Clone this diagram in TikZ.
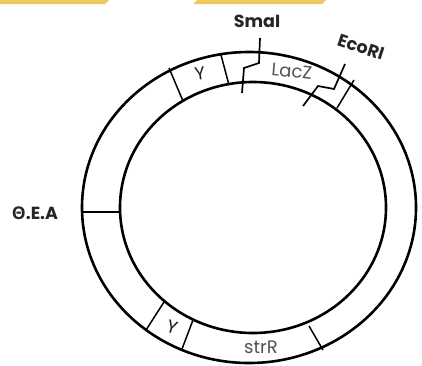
\documentclass[tikz,border=0pt]{standalone}
\usepackage{fontspec}
\setmainfont{Poppins}
\newfontfamily\greekfont{Open Sans}
\begin{document}
\begin{tikzpicture}[x=1pt,y=-1pt,
  ring/.style={line width=2.6pt},
  tick/.style={line width=1.5pt},
  cut/.style={line width=1.7pt, line join=miter},
  site/.style={font=\fontsize{17.5}{17.5}\selectfont\bfseries, text=black!85, inner sep=0pt},
  gene/.style={font=\fontsize{18}{18}\selectfont, text=black!68, inner sep=0pt},
  seglabel/.style={font=\fontsize{18}{18}\selectfont, text=black!90, inner sep=0pt}]
\definecolor{barcol}{RGB}{237,201,96}
\useasboundingbox (0,0) rectangle (422,365);
% yellow bars
\fill[barcol] (0,0) -- (109,0) -- (105,4) -- (0,4) -- cycle;
\fill[barcol] (197,0) -- (326,0) -- (322,4) -- (193,4) -- cycle;
% coordinates
\coordinate (ya1) at (169,68); \coordinate (ya2) at (183,101);
\coordinate (yb1) at (221,55); \coordinate (yb2) at (229,85);
\coordinate (s1) at (260,38); \coordinate (s2) at (259,63);
\coordinate (s3) at (244,68); \coordinate (s4) at (242,93);
\coordinate (e1) at (345,64); \coordinate (e2) at (334,89);
\coordinate (e3) at (318,86); \coordinate (e4) at (303,106);
\coordinate (la1) at (354,80); \coordinate (la2) at (337,108);
\coordinate (t1) at (82,212); \coordinate (t2) at (121,212);
\coordinate (yc1) at (164,302); \coordinate (yc2) at (146,330);
\coordinate (yd1) at (193,320); \coordinate (yd2) at (182,349);
\coordinate (sr1) at (309,326); \coordinate (sr2) at (323,350);
% radial ticks
\draw[tick] (ya1) -- (ya2);
\draw[tick] (yb1) -- (yb2);
\draw[tick] (la1) -- (la2);
\draw[tick] (t1) -- (t2);
\draw[tick] (yc1) -- (yc2);
\draw[tick] (yd1) -- (yd2);
\draw[tick] (sr1) -- (sr2);
% rings
\draw[ring] (249,207.5) ellipse [x radius=167, y radius=155.5];
\draw[ring] (253,207.5) ellipse [x radius=133, y radius=125.5];
% cut sites
\draw[cut] (s1) -- (s2) -- (s3) -- (s4);
\draw[cut] (e1) -- (e2) -- (e3) -- (e4);
% labels
\node[site] (sma) at (257,21) {SmaI};
\node[site, rotate=-18] (eco) at (361,47) {EcoRI};
\node[site] (oea) at (35,213) {{\greekfont Θ}.E.A};
\node[gene, rotate=-5] (lacz) at (292,71) {LacZ};
\node[gene] (str) at (261,347) {strR};
\node[seglabel, rotate=8] (y1) at (200,74) {Y};
\node[seglabel, rotate=-18] (y2) at (172,327) {Y};
\end{tikzpicture}
\end{document}
